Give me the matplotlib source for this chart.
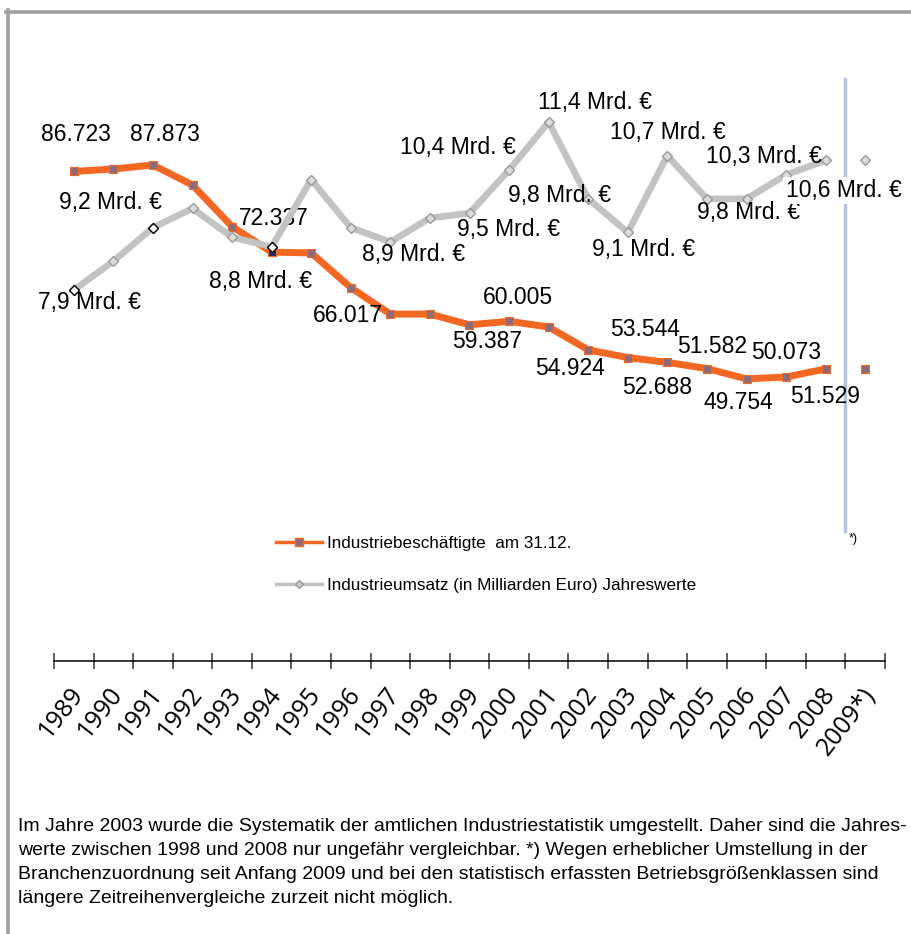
import matplotlib
matplotlib.use('Agg')
import matplotlib.pyplot as plt
import matplotlib.transforms as mtrans
from matplotlib.lines import Line2D

# ---------------- data ----------------
years = ['1989', '1990', '1991', '1992', '1993', '1994', '1995', '1996', '1997',
         '1998', '1999', '2000', '2001', '2002', '2003', '2004', '2005', '2006',
         '2007', '2008', '2009*)']
employees = [86723, 87160, 87873, 84300, 76900, 72337, 72200, 66017, 61300,
             61300, 59387, 60005, 59000, 54924, 53544, 52688, 51582, 49754,
             50073, 51529, 51500]
revenue = [7.9, 8.5, 9.2, 9.6, 9.0, 8.8, 10.2, 9.2, 8.9, 9.4, 9.5, 10.4, 11.4,
           9.8, 9.1, 10.7, 9.8, 9.8, 10.3, 10.6, 10.6]
emp_label_idx = [0, 2, 5, 7, 10, 11, 13, 14, 15, 16, 17, 18, 19]
rev_label_idx = [0, 2, 5, 8, 10, 11, 12, 13, 14, 15, 17, 18, 19]
legend_labels = ['Industriebeschäftigte  am 31.12.',
                 'Industrieumsatz (in Milliarden Euro) Jahreswerte']
footnote = ("Im Jahre 2003 wurde die Systematik der amtlichen Industriestatistik umgestellt. Daher sind die Jahres-\n"
            "werte zwischen 1998 und 2008 nur ungefähr vergleichbar. *) Wegen erheblicher Umstellung in der\n"
            "Branchenzuordnung seit Anfang 2009 und bei den statistisch erfassten Betriebsgrößenklassen sind\n"
            "längere Zeitreihenvergleiche zurzeit nicht möglich.")

# label offsets in pixels (dx right, dy down)
emp_offsets = [(2, -37), (12, -30), (2, -34), (-3, 28), (18, 17), (9, -24), (-18, 19),
               (17, -28), (-10, 25), (5, -22), (-8, 24), (0, -25), (-1, 28)]
rev_offsets = [(16, 12), (-42, -25), (-11, 35), (23, 12), (39, 16), (-51, -23), (46, -20),
               (-29, -3), (16, 17), (1, -23), (2, 14), (-22, -18), (18, 30)]

FONT = ['Liberation Sans', 'DejaVu Sans']
plt.rcParams['font.family'] = FONT

ORANGE = '#f26822'
MAUVE = '#8f6b78'
GRAY = '#c3c3c3'
DGRAY = '#999999'

W, H = 911, 934
fig = plt.figure(figsize=(W / 100, H / 100), dpi=100)

ax_left, ax_right = 54, 885
ax_top, ax_bot = 78, 661
ax = fig.add_axes([ax_left / W, 1 - ax_bot / H, (ax_right - ax_left) / W, (ax_bot - ax_top) / H])
ax2 = ax.twinx()

n = len(years)
x = list(range(n))
ax.set_xlim(-0.5, n - 0.5)
ax.set_ylim(-541, 103381)
ax2.set_ylim(0.171, 12.317)

# vertical separator
ax.axvline(n - 1.5, ymin=(ax_bot - 531) / (ax_bot - ax_top), ymax=1, color='#b8c0e4', lw=2.5, zorder=1)

# orange series
ax.plot(x[:-1], employees[:-1], color=ORANGE, lw=5, zorder=3)
ax.plot(x, employees, ls='none', marker='s', ms=6, mfc=MAUVE, mec=ORANGE, mew=0.8, zorder=4)
ax.plot([x[5]], [employees[5]], ls='none', marker='s', ms=6, mfc='#1c2a6b', mec=ORANGE, mew=0.8, zorder=5)

# gray series
ax2.plot(x[:-1], revenue[:-1], color=GRAY, lw=4.8, zorder=3)
ax2.plot(x, revenue, ls='none', marker='D', ms=5, mfc='#dcdcdc', mec=DGRAY, mew=1.0, zorder=4)
for i in (0, 2, 5):
    ax2.plot([x[i]], [revenue[i]], ls='none', marker='D', ms=5, mfc='white', mec='black', mew=1.0, zorder=5)

LFS = 16.5
for i, (dx, dy) in zip(emp_label_idx, emp_offsets):
    s = f"{employees[i]:,}".replace(',', '.')
    ax.annotate(s, (x[i], employees[i]), xytext=(dx, -dy), textcoords='offset pixels',
                ha='center', va='center', fontsize=LFS, zorder=6)
for i, (dx, dy) in zip(rev_label_idx, rev_offsets):
    s = f"{revenue[i]:.1f}".replace('.', ',') + " Mrd. €"
    kw = {}
    if i == rev_label_idx[-1]:
        kw['bbox'] = dict(boxstyle='square,pad=0.1', fc='white', ec='none')
    ax2.annotate(s, (x[i], revenue[i]), xytext=(dx, -dy), textcoords='offset pixels',
                 ha='center', va='center', fontsize=LFS, zorder=6, **kw)

# "*)" note at the bottom of separator
ax.annotate('*)', (n - 1.5, (ax_bot - 531) / (ax_bot - ax_top)),
            xycoords=('data', 'axes fraction'), xytext=(8, -8), textcoords='offset pixels',
            ha='center', va='center', fontsize=9)

# axes styling
for a in (ax, ax2):
    for s in ('top', 'left', 'right'):
        a.spines[s].set_visible(False)
    a.set_yticks([])
ax2.spines['bottom'].set_visible(False)
ax.spines['bottom'].set_linewidth(1.1)
ax.set_xticks([i - 0.5 for i in range(n + 1)])
ax.set_xticklabels([])
ax.tick_params(axis='x', which='major', direction='inout', length=11, width=1.1, color='#333333')
ax.set_xticks(x, minor=True)
ax.set_xticklabels(years, minor=True, rotation=52, ha='right', va='center',
                   rotation_mode='anchor', fontsize=18, family=['Open Sans', 'DejaVu Sans'])
ax.tick_params(axis='x', which='minor', length=0, pad=21)
off = mtrans.ScaledTranslation(5 / 100, 0, fig.dpi_scale_trans)
for lab in ax.get_xticklabels(minor=True):
    lab.set_transform(lab.get_transform() + off)

# legend
handles = [Line2D([], [], color=ORANGE, lw=2.5, marker='s', ms=6, mfc=MAUVE, mec=ORANGE),
           Line2D([], [], color=GRAY, lw=2.5, marker='D', ms=4, mfc='#c8c8c8', mec=DGRAY)]
fig.legend(handles, legend_labels, loc='upper left', bbox_to_anchor=(276 / W, 1 - 536 / H),
           frameon=False, fontsize=12.3, handlelength=2.7, handletextpad=0.3, labelspacing=1.6,
           borderaxespad=0, borderpad=0)

# footnote
fig.text(18 / W, 1 - 818 / H, footnote, ha='left', va='top', fontsize=14.0, linespacing=1.53)

# frame lines (top and left)
fig.add_artist(Line2D([6 / W, 1], [1 - 11.5 / H, 1 - 11.5 / H], transform=fig.transFigure,
                      color='#a0a0a0', lw=2.6))
fig.add_artist(Line2D([7.5 / W, 7.5 / W], [0, 1 - 10 / H], transform=fig.transFigure,
                      color='#a0a0a0', lw=2.6))

fig.savefig('out.png', dpi=100, facecolor='white')
